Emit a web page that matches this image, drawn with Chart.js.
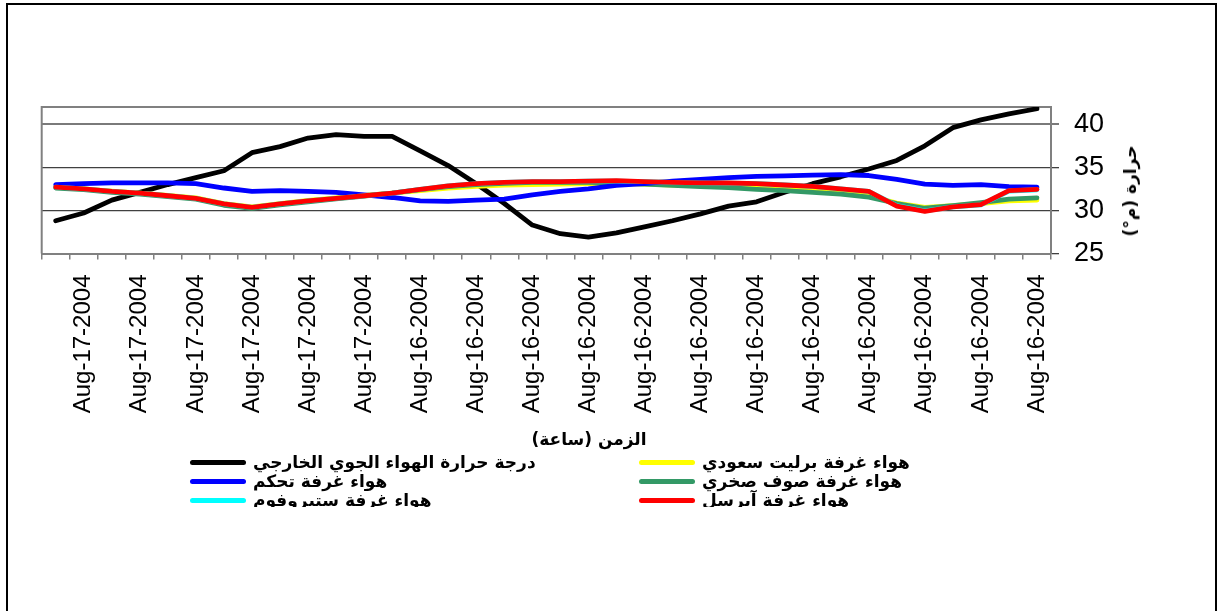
<!DOCTYPE html>
<html>
<head>
<meta charset="utf-8">
<script src="https://cdn.jsdelivr.net/npm/chart.js@4/dist/chart.umd.min.js"></script>
<style>
  html, body { margin: 0; padding: 0; background: #fff; }
  #wrap { position: relative; width: 1220px; height: 611px; overflow: hidden; background: #fff; }
  #frame { position: absolute; left: 6px; top: 3px; width: 1211px; height: 640px; border: 2px solid #000; box-sizing: border-box; }
  canvas { position: absolute; left: 0; top: 0; }
  #xtitle { position: absolute; left: 589px; top: 429px; transform: translateX(-50%); font: bold 17px "DejaVu Sans", sans-serif; white-space: nowrap; color: #000; direction: rtl; }
  #ytitle { position: absolute; left: 1130px; top: 191px; transform: translate(-50%, -50%) rotate(-90deg); font: bold 17px "DejaVu Sans", sans-serif; white-space: nowrap; color: #000; direction: rtl; }
  #legend { position: absolute; left: 0; top: 450px; width: 1220px; height: 57px; overflow: hidden; }
  .item { position: absolute; height: 20px; display: flex; align-items: center; white-space: nowrap; }
  .sample { width: 56px; height: 5px; border-radius: 3px; margin-right: 7px; flex: none; }
  .txt { font: bold 17px "DejaVu Sans", sans-serif; color: #000; direction: rtl; unicode-bidi: isolate; }
</style>
</head>
<body>
<div id="wrap">
  <div id="frame"></div>
  <canvas id="c" width="1220" height="611"></canvas>
  <div id="xtitle"></div>
  <div id="ytitle"></div>
  <div id="legend"></div>
</div>
<script>
// ---- data ----
const tickLabels = [
  'Aug-17-2004','Aug-17-2004','Aug-17-2004','Aug-17-2004','Aug-17-2004','Aug-17-2004',
  'Aug-17-2004','Aug-17-2004','Aug-17-2004','Aug-17-2004','Aug-17-2004','Aug-17-2004',
  'Aug-16-2004','Aug-16-2004','Aug-16-2004','Aug-16-2004','Aug-16-2004','Aug-16-2004',
  'Aug-16-2004','Aug-16-2004','Aug-16-2004','Aug-16-2004','Aug-16-2004','Aug-16-2004',
  'Aug-16-2004','Aug-16-2004','Aug-16-2004','Aug-16-2004','Aug-16-2004','Aug-16-2004',
  'Aug-16-2004','Aug-16-2004','Aug-16-2004','Aug-16-2004','Aug-16-2004','Aug-16-2004'
];
const yTicks = [25, 30, 35, 40];

const outsideAir = [28.8,29.7,31.2,32.1,33.0,33.8,34.6,36.7,37.4,38.4,38.8,38.6,
                    38.6,36.9,35.2,33.1,30.8,28.3,27.3,26.9,27.4,28.1,28.8,29.6,
                    30.5,31.0,32.1,33.1,33.9,34.8,35.8,37.5,39.6,40.5,41.2,41.8];
const perlite    = [32.7,32.5,32.25,32.0,31.75,31.45,30.8,30.4,30.8,31.15,31.45,31.75,
                    32.0,32.3,32.6,32.8,32.95,33.0,33.05,33.1,33.1,33.05,32.95,32.9,
                    32.9,32.7,32.55,32.35,32.1,31.7,30.85,30.35,30.55,30.8,31.1,31.2];
const control    = [33.0,33.1,33.2,33.2,33.2,33.1,32.6,32.2,32.3,32.2,32.1,31.8,
                    31.5,31.1,31.05,31.2,31.3,31.8,32.2,32.5,32.9,33.1,33.4,33.6,
                    33.8,33.95,34.0,34.1,34.15,34.05,33.6,33.05,32.9,33.0,32.75,32.7];
const rockWool   = [32.6,32.4,32.1,31.9,31.6,31.3,30.6,30.25,30.65,31.0,31.35,31.65,
                    32.0,32.4,32.75,33.0,33.15,33.25,33.25,33.25,33.2,33.05,32.9,32.75,
                    32.65,32.45,32.3,32.1,31.9,31.55,30.8,30.25,30.55,30.9,31.3,31.45];
const styrofoam  = [32.7,32.5,32.2,32.0,31.7,31.4,30.75,30.35,30.75,31.1,31.4,31.7,
                    32.0,32.45,32.85,33.1,33.25,33.35,33.35,33.4,33.4,33.35,33.25,33.2,
                    33.15,33.1,32.95,32.8,32.5,32.2,30.55,29.95,30.4,30.65,32.25,32.4];
const aircell    = [32.7,32.5,32.2,32.0,31.7,31.4,30.75,30.35,30.75,31.1,31.4,31.7,
                    32.0,32.45,32.85,33.1,33.25,33.35,33.35,33.4,33.45,33.35,33.25,33.2,
                    33.18,33.1,32.95,32.8,32.5,32.2,30.5,29.9,30.4,30.66,32.3,32.45];

const seriesNames = [
  'درجة حرارة الهواء الجوي الخارجي',
  'هواء  غرفة برليت سعودي',
  'هواء  غرفة تحكم',
  'هواء  غرفة صوف صخري',
  'هواء  غرفة ستيروفوم',
  'هواء  غرفة آيرسل'
];
const seriesData = [outsideAir, perlite, control, rockWool, styrofoam, aircell];
const seriesColors = ['#000000', '#FFFF00', '#0000FF', '#339966', '#00FFFF', '#FF0000'];
const seriesOrder = [5, 3, 2, 2.5, 1, 0];   // lower = drawn on top

const xTitle = 'الزمن (ساعة)';
const yTitle = 'حرارة (م°)';

// ---- chart ----
const plotFrame = {
  id: 'plotFrame',
  beforeDatasetsDraw(chart) {
    const a = chart.chartArea, ctx = chart.ctx;
    ctx.save();
    ctx.strokeStyle = '#808080';
    ctx.lineWidth = 2;
    ctx.beginPath();
    ctx.moveTo(a.left, a.bottom);
    ctx.lineTo(a.left, a.top);
    ctx.lineTo(a.right, a.top);
    ctx.stroke();
    ctx.restore();
  }
};

new Chart(document.getElementById('c'), {
  type: 'line',
  data: {
    labels: tickLabels,
    datasets: seriesData.map((d, i) => ({
      label: seriesNames[i],
      data: d,
      borderColor: seriesColors[i],
      backgroundColor: seriesColors[i],
      borderWidth: 4.8,
      pointRadius: 0,
      tension: 0,
      borderCapStyle: 'round',
      borderJoinStyle: 'round',
      order: seriesOrder[i]
    }))
  },
  options: {
    responsive: false,
    devicePixelRatio: 1,
    animation: false,
    layout: { padding: { left: 41.7, top: 107, right: 0, bottom: 0 } },
    plugins: { legend: { display: false }, tooltip: { enabled: false } },
    scales: {
      x: {
        type: 'category',
        offset: true,
        afterFit(s) { s.height = 611 - 253.5; },
        grid: { drawOnChartArea: false, drawTicks: true, tickLength: 6, color: '#808080', lineWidth: 1.5, offset: true },
        border: { display: true, color: '#808080', width: 2 },
        ticks: {
          autoSkip: false, minRotation: 90, maxRotation: 90, padding: 15,
          color: '#000',
          font: { family: '"Liberation Sans", Arial, sans-serif', size: 24 },
          callback(v, i) { return i % 2 === 1 ? this.getLabelForValue(v) : ''; }
        }
      },
      y: {
        position: 'right',
        min: 25, max: 42,
        afterFit(s) { s.width = 1220 - 1051; },
        afterBuildTicks(s) { s.ticks = yTicks.map(v => ({ value: v })); },
        grid: {
          drawOnChartArea: true, drawTicks: true, tickLength: 8,
          color: (c) => c.tick && c.tick.value === 40 ? '#7a7a7a' : '#404040',
          lineWidth: (c) => c.tick && c.tick.value === 40 ? 2 : 1.3
        },
        border: { display: true, color: '#808080', width: 2 },
        ticks: {
          padding: 15, color: '#000',
          font: { family: '"Liberation Sans", Arial, sans-serif', size: 27 }
        }
      }
    }
  },
  plugins: [plotFrame]
});

// ---- titles & legend (html) ----
document.getElementById('xtitle').textContent = xTitle;
document.getElementById('ytitle').textContent = yTitle;
const legend = document.getElementById('legend');
const colX = [190, 639];
const rowY = [2, 21, 40];
seriesNames.forEach((name, i) => {
  const it = document.createElement('div');
  it.className = 'item';
  it.style.left = colX[i % 2] + 'px';
  it.style.top = rowY[Math.floor(i / 2)] + 'px';
  const s = document.createElement('span');
  s.className = 'sample';
  s.style.background = seriesColors[i];
  const t = document.createElement('span');
  t.className = 'txt';
  t.textContent = name;
  it.appendChild(s); it.appendChild(t);
  legend.appendChild(it);
});
</script>
</body>
</html>
